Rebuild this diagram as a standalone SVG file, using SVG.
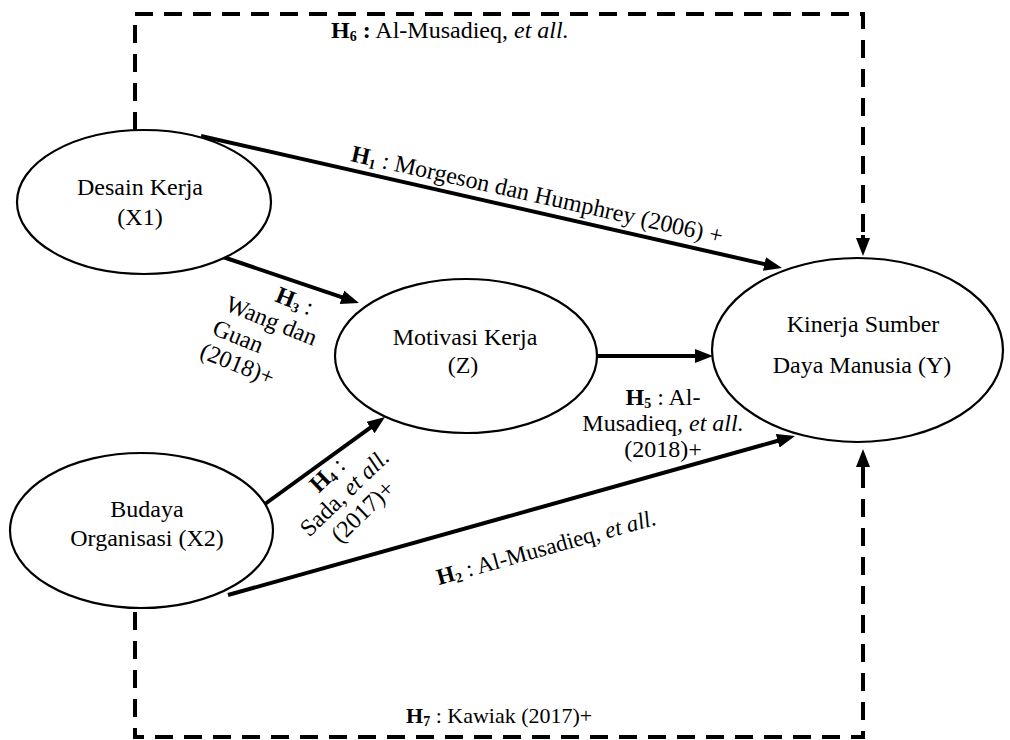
<svg xmlns="http://www.w3.org/2000/svg" width="1010" height="740" viewBox="0 0 1010 740">
<defs>
<style>
.node{fill:#fff;stroke:#000;stroke-width:2.2}
.t{font-family:"Liberation Serif","Times New Roman",serif;font-size:24px;fill:#000}
.b{font-weight:bold}
.i{font-style:italic}
.sub{font-size:14px;font-weight:bold}
.arr{fill:none;stroke:#000;stroke-width:4;marker-end:url(#ah)}
.dash{fill:none;stroke:#000;stroke-width:4;stroke-dasharray:18 11}
</style>
<marker id="ah" markerUnits="userSpaceOnUse" markerWidth="19" markerHeight="15" refX="2" refY="7" orient="auto">
<path d="M0,0 L18,7 L0,14 z" fill="#000"/>
</marker>
</defs>
<rect width="1010" height="740" fill="#fff"/>

<g id="connectors">
<line class="arr" x1="201" y1="136" x2="766.4" y2="264.5"/>
<line class="arr" x1="223" y1="257" x2="343.8" y2="297.9"/>
<line class="arr" x1="265" y1="504" x2="372.1" y2="426.4"/>
<line class="arr" x1="597" y1="356" x2="697" y2="356"/>
<line class="arr" x1="228" y1="595" x2="779.6" y2="440.3"/>
<path class="dash" d="M135,130 L135,14 L863,14 L863,240"/>
<path class="dash" d="M135,612 L135,737 L863,737 L863,465"/>
<line x1="863" y1="235" x2="863" y2="240" stroke="#000" stroke-width="4" marker-end="url(#ah)"/>
<line x1="863" y1="470" x2="863" y2="465" stroke="#000" stroke-width="4" marker-end="url(#ah)"/>
</g>

<g id="desain-kerja">
<ellipse class="node" cx="144" cy="202" rx="127" ry="72"/>
<text class="t" text-anchor="middle" x="140" y="195">Desain Kerja</text>
<text class="t" text-anchor="middle" x="140" y="225">(X1)</text>
</g>

<g id="motivasi-kerja">
<ellipse class="node" cx="466" cy="356" rx="131" ry="77"/>
<text class="t" text-anchor="middle" x="465" y="345">Motivasi Kerja</text>
<text class="t" text-anchor="middle" x="463" y="373">(Z)</text>
</g>

<g id="budaya-organisasi">
<ellipse class="node" cx="141.5" cy="530.5" rx="131.5" ry="77.5"/>
<text class="t" text-anchor="middle" x="147" y="517">Budaya</text>
<text class="t" text-anchor="middle" x="147" y="546">Organisasi (X2)</text>
</g>

<g id="kinerja-sdm">
<ellipse class="node" cx="857.5" cy="350" rx="145.5" ry="92"/>
<text class="t" text-anchor="middle" x="863" y="332">Kinerja Sumber</text>
<text class="t" text-anchor="middle" x="862" y="373">Daya Manusia (Y)</text>
</g>

<g id="labels">
<text class="t" transform="translate(350,161) rotate(12.6)"><tspan class="b">H</tspan><tspan class="sub" dy="3">1</tspan><tspan dy="-3"> : Morgeson dan Humphrey (2006) +</tspan></text>

<text class="t" transform="translate(331,38)"><tspan class="b">H</tspan><tspan class="sub" dy="3">6</tspan><tspan class="b" dy="-3"> :</tspan><tspan> Al-Musadieq, </tspan><tspan class="i">et all.</tspan></text>

<text class="t" style="font-size:22px" transform="translate(406,723)"><tspan class="b">H</tspan><tspan class="sub" dy="3">7</tspan><tspan dy="-3"> : Kawiak (2017)+</tspan></text>

<text class="t" style="font-size:23px" transform="translate(439,585) rotate(-15.5)"><tspan class="b">H</tspan><tspan class="sub" dy="3">2</tspan><tspan dy="-3"> : Al-Musadieq, </tspan><tspan class="i">et all.</tspan></text>

<text class="t" text-anchor="middle" x="663" y="405"><tspan class="b">H</tspan><tspan class="sub" dy="3">5</tspan><tspan dy="-3"> : Al-</tspan></text>
<text class="t" text-anchor="middle" x="663" y="431">Musadieq, <tspan class="i">et all.</tspan></text>
<text class="t" text-anchor="middle" x="663" y="457">(2018)+</text>

<g transform="translate(224,310) rotate(22)">
<text class="t" x="43" y="-27"><tspan class="b">H</tspan><tspan class="sub" dy="3">3</tspan><tspan dy="-3"> :</tspan></text>
<text class="t" x="0" y="0">Wang dan</text>
<text class="t" x="-3" y="27">Guan</text>
<text class="t" x="-6" y="53">(2018)+</text>
</g>

<g transform="translate(309,538) rotate(-44)">
<text class="t" text-anchor="middle" x="57" y="-25"><tspan class="b">H</tspan><tspan class="sub" dy="3">4</tspan><tspan dy="-3"> :</tspan></text>
<text class="t" text-anchor="middle" x="57" y="0">Sada, <tspan class="i">et all.</tspan></text>
<text class="t" text-anchor="middle" x="57" y="26">(2017)+</text>
</g>
</g>
</svg>
